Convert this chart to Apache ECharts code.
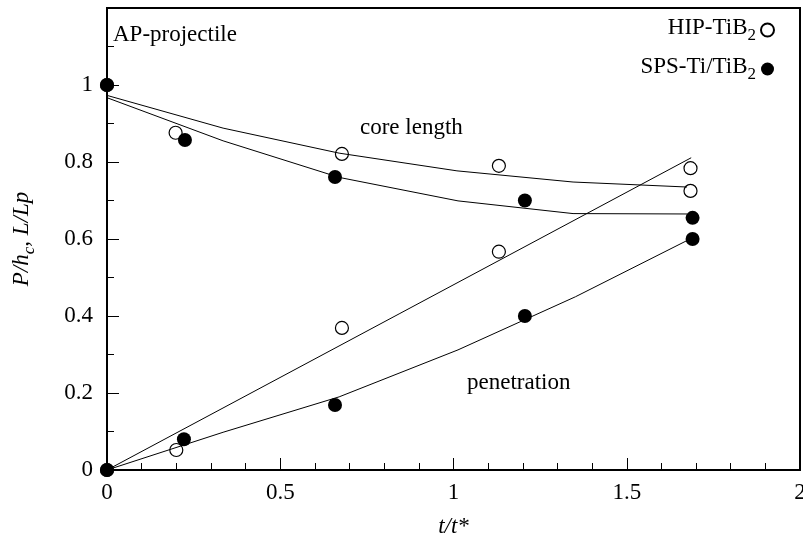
<!DOCTYPE html>
<html>
<head>
<meta charset="utf-8">
<script src="https://cdn.jsdelivr.net/npm/echarts@6.0.0/dist/echarts.min.js"></script>
<style>
  html, body { margin: 0; padding: 0; background: #fff; }
  #chart { width: 803px; height: 542px; }
</style>
</head>
<body>
<div id="chart"></div>
<script>
// measured points, [t/t*, value]
const hipPoints = [
    [0, 1], [0.198, 0.876], [0.678, 0.821], [1.131, 0.79], [1.684, 0.784], [1.684, 0.725],
    [0, 0], [0.2, 0.052], [0.678, 0.369], [1.131, 0.567]
];
const spsPoints = [
    [0, 1], [0.225, 0.857], [0.658, 0.761], [1.206, 0.70], [1.69, 0.655],
    [0, 0], [0.222, 0.08], [0.658, 0.169], [1.206, 0.40], [1.69, 0.60]
];
// fitted curves
const coreHip = [[0, 0.973], [0.335, 0.888], [0.67, 0.823], [1.01, 0.777], [1.345, 0.748], [1.674, 0.735]];
const coreSps = [[0, 0.967], [0.335, 0.855], [0.67, 0.76], [1.013, 0.699], [1.345, 0.666], [1.674, 0.665]];
const penHip = [[0, 0], [1.686, 0.811]];
const penSps = [[0, 0], [0.335, 0.098], [0.67, 0.19], [1.013, 0.312], [1.352, 0.45], [1.674, 0.596]];

const font = '"Liberation Serif", "DejaVu Serif", serif';
const sub = { fontFamily: font, fontSize: 17, color: '#000', padding: [11, 0, 0, 0], verticalAlign: 'top' };

const chart = echarts.init(document.getElementById('chart'));

function curve(data) {
    return {
        type: 'line',
        data: data,
        symbol: 'none',
        lineStyle: { color: '#000', width: 1 },
        z: 1
    };
}

const option = {
    animation: false,
    grid: {
        left: 107, right: 3, top: 8, bottom: 72,
        outerBoundsMode: 'none',
        show: true, borderColor: '#000', borderWidth: 2
    },
    legend: {
        orient: 'vertical',
        right: 28,
        top: 16,
        align: 'right',
        padding: 0,
        itemGap: 11,
        itemWidth: 13,
        itemHeight: 13,
        selectedMode: false,
        data: ['HIP', 'SPS'],
        formatter: function (name) {
            return name === 'HIP' ? '{n|HIP-TiB}{s|2}' : '{n|SPS-Ti/TiB}{s|2}';
        },
        textStyle: {
            rich: {
                n: { fontFamily: font, fontSize: 23, color: '#000', lineHeight: 26, verticalAlign: 'top' },
                s: sub
            }
        }
    },
    xAxis: {
        type: 'value',
        min: 0, max: 2, interval: 0.5,
        name: '{i|t/t*}',
        nameLocation: 'middle',
        nameGap: 45,
        nameTextStyle: { rich: { i: { fontFamily: font, fontSize: 23, fontStyle: 'italic', color: '#000' } } },
        axisLine: { lineStyle: { color: '#000', width: 2 } },
        axisTick: { inside: true, length: 12, lineStyle: { color: '#000', width: 1 } },
        minorTick: { show: true, splitNumber: 5, length: 7, lineStyle: { color: '#000', width: 1 } },
        axisLabel: { fontFamily: font, fontSize: 23, color: '#000', margin: 11 },
        splitLine: { show: false }
    },
    yAxis: {
        type: 'value',
        min: 0, max: 1.2, interval: 0.2,
        name: '{i|P/h}{s|c}{i|, L/Lp}',
        nameLocation: 'middle',
        nameGap: 69,
        nameRotate: 90,
        nameTextStyle: {
            rich: {
                i: { fontFamily: font, fontSize: 23, fontStyle: 'italic', color: '#000', lineHeight: 26, verticalAlign: 'top' },
                s: Object.assign({}, sub, { fontStyle: 'italic' })
            }
        },
        axisLine: { lineStyle: { color: '#000', width: 2 } },
        axisTick: { inside: true, length: 12, lineStyle: { color: '#000', width: 1 } },
        minorTick: { show: true, splitNumber: 2, length: 7, lineStyle: { color: '#000', width: 1 } },
        axisLabel: {
            fontFamily: font, fontSize: 23, color: '#000', margin: 14,
            formatter: function (v) { return v > 1.1 ? '' : String(+v.toFixed(1)); }
        },
        splitLine: { show: false }
    },
    graphic: [
        { type: 'text', left: 113, top: 23, style: { text: 'AP-projectile', font: '23px ' + font, fill: '#000' } },
        { type: 'text', left: 360, top: 116, style: { text: 'core length', font: '23px ' + font, fill: '#000' } },
        { type: 'text', left: 467, top: 371, style: { text: 'penetration', font: '23px ' + font, fill: '#000' } }
    ],
    series: [
        curve(coreHip),
        curve(coreSps),
        curve(penHip),
        curve(penSps),
        {
            name: 'HIP',
            type: 'scatter',
            data: hipPoints,
            symbol: 'circle',
            symbolSize: 13,
            itemStyle: { color: 'rgba(255,255,255,0)', borderColor: '#000', borderWidth: 1.2, opacity: 1 },
            z: 3
        },
        {
            name: 'SPS',
            type: 'scatter',
            data: spsPoints,
            symbol: 'circle',
            symbolSize: 14,
            itemStyle: { color: '#000', opacity: 1 },
            z: 4
        }
    ]
};

chart.setOption(option);
</script>
</body>
</html>
